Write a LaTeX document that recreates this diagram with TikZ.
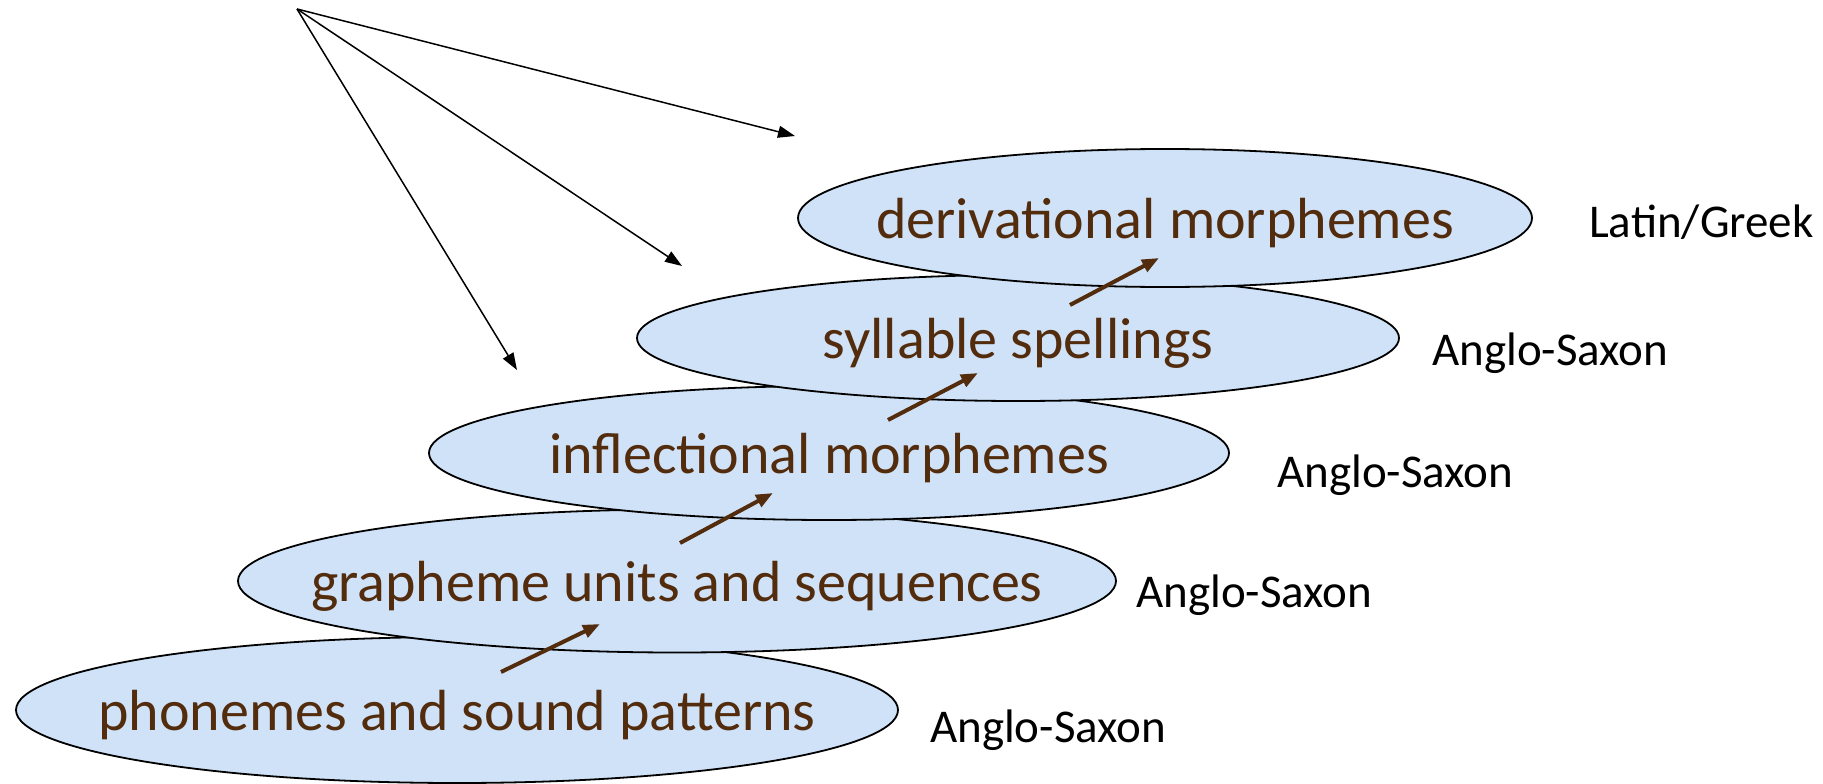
\documentclass[tikz,border=0pt]{standalone}
\usepackage{fontspec}
\setmainfont{Carlito}
\usetikzlibrary{shapes.geometric,arrows.meta}
\definecolor{layerfill}{RGB}{207,226,248}
\definecolor{layerbrown}{RGB}{82,44,12}
\newcommand{\layertext}[1]{\makebox[0pt]{\raisebox{-0.36em}[0pt][0pt]{#1}}}
\tikzset{
	layer/.style={ellipse,draw=black,line width=1.8pt,fill=layerfill,inner sep=0pt,
		text=layerbrown,font=\fontsize{58}{62}\selectfont},
	origin/.style={anchor=base west,inner sep=0pt,font=\fontsize{47}{51}\selectfont},
}
\begin{document}
\begin{tikzpicture}[x=1pt,y=-1pt]
		\useasboundingbox (0,0) rectangle (1823,784);
		% layers, lowest first
		\node[layer,minimum width=882pt,minimum height=146pt] (phon) at (457,710) {\layertext{phonemes and sound patterns}};
		\node[layer,minimum width=878pt,minimum height=143pt] (graph) at (677,581) {\layertext{grapheme units and sequences}};
		\node[layer,minimum width=800pt,minimum height=134pt] (infl) at (829,453) {\layertext{inflectional morphemes}};
		\node[layer,minimum width=762pt,minimum height=126pt] (syll) at (1018,338) {\layertext{syllable spellings}};
		\node[layer,minimum width=734pt,minimum height=138pt] (deriv) at (1165,218) {\layertext{derivational morphemes}};
		%
		\node[origin] (phonO) at (930,742) {Anglo-Saxon};
		\node[origin] (graphO) at (1136,607) {Anglo-Saxon};
		\node[origin] (inflO) at (1277,487) {Anglo-Saxon};
		\node[origin] (syllO) at (1432,365) {Anglo-Saxon};
		\node[origin] (derivO) at (1589,237) {Latin/Greek};
		%
		\coordinate (src) at (297,9);
		\coordinate (src1) at (795,136);
		\coordinate (src2) at (682,266);
		\coordinate (src3) at (517,370);
		\coordinate (up1a) at (501,672);
		\coordinate (up1b) at (600,624);
		\coordinate (up2a) at (680,543);
		\coordinate (up2b) at (773,493);
		\coordinate (up3a) at (888,420);
		\coordinate (up3b) at (978,373);
		\coordinate (up4a) at (1070,305);
		\coordinate (up4b) at (1159,258);
		%
		\path[-{Triangle[length=17pt,width=13pt]},line width=4pt,color=layerbrown]
		% steps up
		(up1a) edge (up1b)
		(up2a) edge (up2b)
		(up3a) edge (up3b)
		(up4a) edge (up4b);
		\path[-{Triangle[length=17pt,width=12pt]},line width=1.5pt]
		% pointers
		(src) edge (src1)
		(src) edge (src2)
		(src) edge (src3);
		\end{tikzpicture}
\end{document}
